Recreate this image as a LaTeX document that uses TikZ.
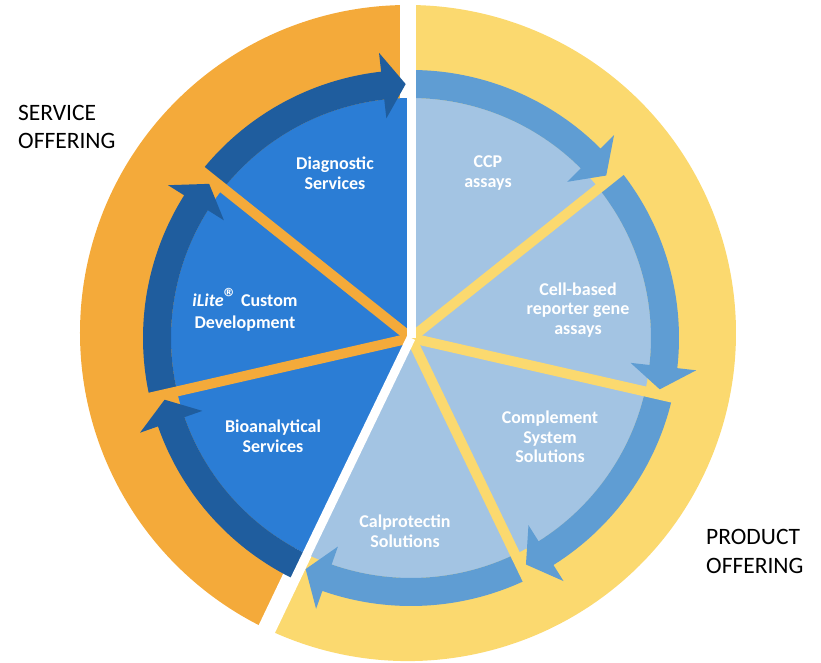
\documentclass[tikz,border=0pt]{standalone}
\usepackage{fontspec}
\setmainfont{Carlito}
\usepackage{tikz}

\definecolor{ServiceOrange}{HTML}{F4AA3A}
\definecolor{ProductYellow}{HTML}{FBD96F}
\definecolor{ServiceArrow}{HTML}{1F5D9E}
\definecolor{ServiceBlue}{HTML}{2B7DD5}
\definecolor{ProductArrow}{HTML}{5F9DD3}
\definecolor{ProductBlue}{HTML}{A3C4E3}

\begin{document}
\begin{tikzpicture}
	[x=1pt, y=1pt,
	 segment/.style={text=white, font=\bfseries\fontsize{18}{19.5}\selectfont, align=center, inner sep=0pt},
	 offering/.style={font=\fontsize{23.5}{28.5}\selectfont, align=left, inner sep=0pt, anchor=north west},
	 spoke/.style={line width=10pt},
	 gap/.style={white, line width=9pt}]
	\useasboundingbox (-411,-324) rectangle (410,338);
	\coordinate (hub) at (0,0);
	\coordinate (ring) at (-3,5);
	% outer rings
	\fill[ServiceOrange] (ring) -- ++(90:328) arc[start angle=90, end angle=245, radius=328] -- cycle;
	\fill[ProductYellow] (ring) -- ++(-115:328) arc[start angle=-115, end angle=90, radius=328] -- cycle;
	\draw[gap, line width=16pt] (ring) -- ++(90:340);
	\draw[gap, line width=18pt] (ring) -- ++(244.5:340);
	% inner pie
	\fill[ServiceBlue] (hub) -- (90:240) arc[start angle=90, end angle=244.29, radius=240] -- cycle;
	\fill[ProductBlue] (hub) -- (-115.71:240) arc[start angle=-115.71, end angle=90, radius=240] -- cycle;
	% curved arrows, one per segment
	\foreach \first/\last/\tint in {244.29/192.86/ServiceArrow, 192.86/141.43/ServiceArrow, 141.43/90/ServiceArrow,
		90/38.57/ProductArrow, 38.57/-12.86/ProductArrow, -12.86/-64.29/ProductArrow, -64.29/-115.71/ProductArrow}
	{
		\pgfmathsetmacro\headbase{\last+6.4}
		\pgfmathsetmacro\headtip{\last+1.2}
		\fill[\tint] (\first:240) arc[start angle=\first, end angle=\headbase, radius=240]
			-- (\headbase:221) -- (\headtip:254) -- (\headbase:287) -- (\headbase:268)
			arc[start angle=\headbase, end angle=\first, radius=268] -- cycle;
	}
	% spokes
	\foreach \s in {141.43, 192.86}
		\draw[spoke, ServiceOrange] (hub) -- (\s:300);
	\foreach \s in {38.57, -12.86, -64.29}
		\draw[spoke, ProductYellow] (hub) -- (\s:300);
	\draw[gap] (hub) -- (90:300);
	\draw[gap] (hub) -- (244.29:300);
	% labels
	\node[segment] (diagnostic) at (-76,165) {Diagnostic\\Services};
	\node[segment] (ilite) at (-166,28) {\textit{iLite}{\fontsize{26}{26}\selectfont\textregistered} Custom\\[2pt]Development};
	\node[segment] (bioanalytical) at (-138,-98) {Bioanalytical\\Services};
	\node[segment] (ccp) at (77,165) {CCP\\assays};
	\node[segment] (cellbased) at (167,28) {Cell-based\\reporter gene\\assays};
	\node[segment] (complement) at (139,-99) {Complement\\System\\Solutions};
	\node[segment] (calprotectin) at (-6,-193) {Calprotectin\\Solutions};
	\node[offering] (service) at (-393,233) {SERVICE\\OFFERING};
	\node[offering] (product) at (295,-191.5) {PRODUCT\\OFFERING};
\end{tikzpicture}
\end{document}
